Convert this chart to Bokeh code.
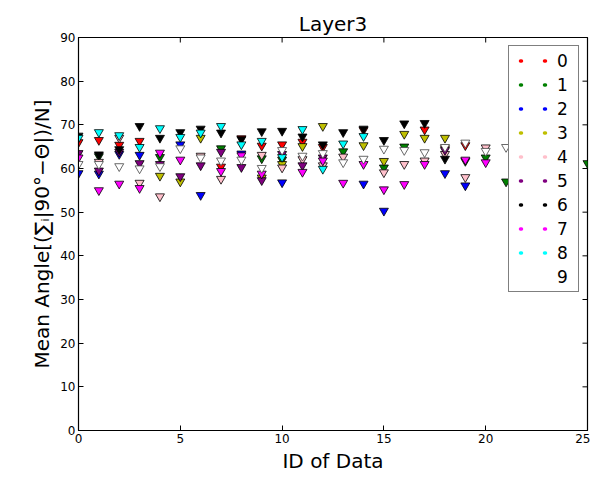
from bokeh.plotting import figure
from bokeh.models import Legend, LegendItem, ColumnDataSource, Range1d, FixedTicker
from bokeh.embed import file_html
from bokeh.resources import INLINE
import numpy as np

N = None
ids = list(range(26))
series_names = ["0", "1", "2", "3", "4", "5", "6", "7", "8", "9"]
series_colors = ["#ff0000", "#008000", "#0000ff", "#bfbf00", "#ffc0cb",
                 "#800080", "#000000", "#ff00ff", "#00ffff", "#ffffff"]

s0 = [66.0, 66.5, 65.4, 66.3, N, N, N, 60.4, 66.9, 65.2, 65.5, 66.1, 64.9, N, 68.8, N, N, 68.9, 64.6, 65.3, N, N, N, N, N, N]
s1 = [N, 62.8, N, N, 62.6, N, N, 64.6, N, 62.3, 62.0, N, N, 63.9, N, 60.2, 65.0, N, N, 61.7, 62.5, 57.0, N, N, N, 61.2]
s2 = [58.9, 58.8, 63.3, 63.1, N, 65.5, 53.9, N, 63.4, N, 56.8, N, N, N, 56.5, 50.3, N, N, 58.9, 56.1, N, N, N, N, N, N]
s3 = [N, N, N, N, 58.3, 57.0, 67.0, N, N, 57.9, 61.0, 65.1, 69.7, N, 65.3, 61.7, 67.9, 67.0, 67.0, N, N, N, N, N, N, N]
s4 = [N, 61.5, 67.0, 56.7, 53.6, N, 62.9, 57.6, N, 63.1, 60.2, 62.1, 60.7, 62.7, N, 59.1, 61.0, 61.8, 63.3, 58.0, 64.8, N, N, N, N, N]
s5 = [63.5, 59.5, 63.8, 61.2, 61.0, 58.2, 60.7, 63.8, 60.3, 57.3, 63.3, 60.7, 62.5, N, N, N, N, N, 64.2, N, N, N, N, N, N, N]
s6 = [67.5, 63.2, 64.4, 69.7, 67.0, 68.3, 69.1, 68.2, 66.7, 68.5, 68.6, 67.3, 65.5, 68.3, 69.1, 66.5, 70.3, 70.4, 62.2, N, N, N, N, N, N, N]
s7 = [62.5, 55.0, 56.5, 55.5, 63.6, 62.0, N, 59.4, 63.0, 58.8, N, 59.2, 61.8, 56.7, 61.0, 55.2, 56.4, 61.0, N, 62.0, 61.4, N, N, N, N, N]
s8 = [67.0, 68.3, 67.6, 64.9, 69.2, 67.2, 68.2, 69.7, 65.5, 66.3, 62.6, 69.0, 59.9, 65.7, 67.4, N, N, N, N, N, N, N, N, N, N, N]
s9 = [61.0, 61.0, 60.5, 60.0, 60.5, 64.6, 62.5, 61.8, 62.0, 60.1, 64.2, 62.9, 63.5, 61.4, 62.2, 64.5, 64.2, 63.7, 64.9, 65.9, 64.0, 64.9, N, N, N, N]
series_values = [s0, s1, s2, s3, s4, s5, s6, s7, s8, s9]

x_ticks = [0, 5, 10, 15, 20, 25]
y_ticks = [0, 10, 20, 30, 40, 50, 60, 70, 80, 90]
x_min, x_max = 0, 25
y_min, y_max = 0, 90

FONT = "DejaVu Sans"

p = figure(width=590, height=475, output_backend="svg", toolbar_location=None,
           x_range=Range1d(x_min, x_max), y_range=Range1d(y_min, y_max),
           title="Layer3", min_border_left=78, min_border_right=3,
           min_border_top=37, min_border_bottom=10)
p.background_fill_color = "white"
p.border_fill_color = "white"
p.xgrid.visible = False
p.ygrid.visible = False
p.outline_line_color = "black"
p.outline_line_width = 1.2

p.title.text_font = FONT
p.title.text_font_size = "20px"
p.title.text_font_style = "normal"
p.title.align = "center"
p.title.text_color = "black"
p.title.standoff = 4

for ax, ticks in ((p.xaxis[0], x_ticks), (p.yaxis[0], y_ticks)):
    ax.ticker = FixedTicker(ticks=ticks)
    ax.major_tick_in = 5
    ax.major_tick_out = 0
    ax.minor_tick_in = 0
    ax.minor_tick_out = 0
    ax.axis_line_color = "black"
    ax.major_tick_line_color = "black"
    ax.major_label_text_font = FONT
    ax.major_label_text_color = "black"
    ax.major_label_text_font_size = "12px"
    ax.major_label_standoff = 3
    ax.axis_label_text_font = FONT
    ax.axis_label_text_font_style = "normal"
    ax.axis_label_text_color = "black"

p.xaxis[0].axis_label = "ID of Data"
p.xaxis[0].axis_label_text_font_size = "20px"
p.xaxis[0].axis_label_standoff = 3
p.yaxis[0].axis_label = "Mean Angle[(∑ᵢ|90°−Θ|)/N]"
p.yaxis[0].axis_label_text_font_size = "20px"
p.yaxis[0].axis_label_standoff = 3

# inward tick marks on the top and right edges (half of each dash is clipped by the frame)
p.scatter(x=x_ticks, y=[y_max] * len(x_ticks), marker="dash", angle=np.pi / 2,
          size=10, line_color="black", line_width=1)
p.scatter(x=[x_max] * len(y_ticks), y=y_ticks, marker="dash",
          size=10, line_color="black", line_width=1)

items = []
for name, color, vals in zip(series_names, series_colors, series_values):
    y = [np.nan if v is None else v for v in vals]
    src = ColumnDataSource(dict(x=ids, y=y))
    edge = "#444444" if color == "#ffffff" else "black"
    p.scatter("x", "y", source=src, marker="inverted_triangle", size=9,
              fill_color=color, line_color=edge, line_width=0.8)
    dummy_src = ColumnDataSource(dict(x=[np.nan, np.nan], y=[np.nan, np.nan]))
    dummy = p.line("x", "y", source=dummy_src, line_color=color, line_width=3.5,
                   line_cap="round", line_dash="1 23", line_dash_offset=17)
    items.append(LegendItem(label=name, renderers=[dummy]))

legend = Legend(items=items, location="top_right")
legend.label_text_font = FONT
legend.label_text_font_size = "17px"
legend.label_text_color = "black"
legend.glyph_width = 40
legend.glyph_height = 21
legend.label_height = 21
legend.label_width = 17
legend.spacing = 3
legend.padding = 4
legend.margin = 8
legend.label_standoff = 4
legend.border_line_color = "black"
legend.border_line_width = 1.5
legend.background_fill_color = "white"
legend.background_fill_alpha = 1.0
p.add_layout(legend)

open("out.html", "w").write(file_html(p, INLINE))
